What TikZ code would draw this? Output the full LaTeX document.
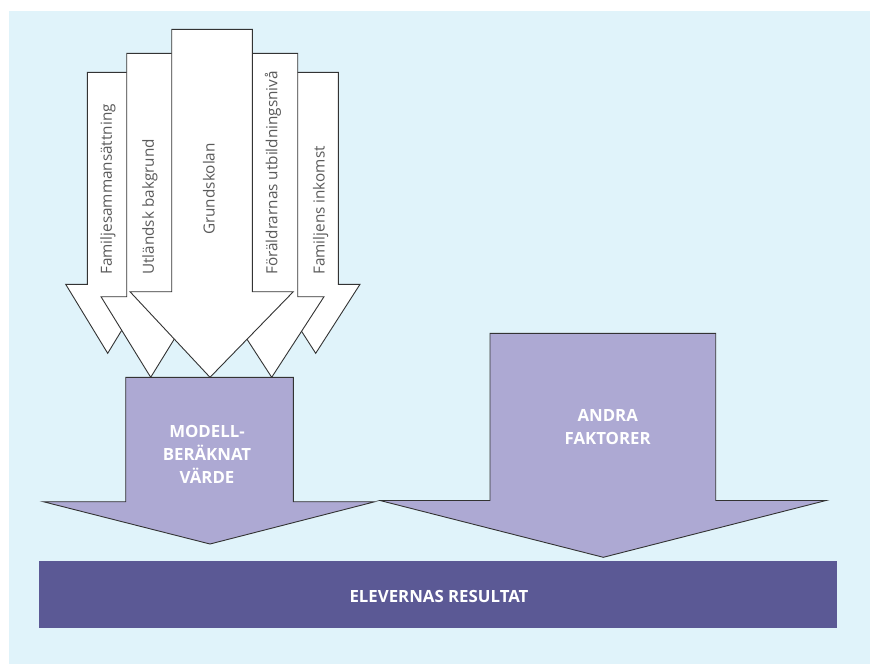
\documentclass[tikz,border=0pt]{standalone}
\usepackage{fontspec}
\setmainfont{Open Sans}
\definecolor{bgblue}{HTML}{E0F3FA}
\definecolor{lilac}{HTML}{ADA9D3}
\definecolor{deeppurple}{HTML}{5B5995}
\definecolor{edgegray}{HTML}{333333}
\definecolor{labelgray}{HTML}{5A5A5A}
\tikzset{
  whitearrow/.style={fill=white, draw=edgegray, line width=0.9pt, line join=miter},
  purplearrow/.style={fill=lilac, draw=edgegray, line width=0.9pt, line join=miter},
  sidelabel/.style={rotate=90, text=labelgray, inner sep=0pt, font=\fontsize{15.3}{17}\selectfont},
  boldlabel/.style={text=white, align=center, inner sep=0pt, font=\bfseries\fontsize{16.8}{23}\selectfont},
}
\begin{document}
\begin{tikzpicture}[x=1pt, y=-1pt]
\useasboundingbox (0,0) rectangle (870,664);
\fill[bgblue] (9,11) rectangle (870,664);

% white arrows, back to front
% A1 Familjesammansättning
\draw[whitearrow] (87.3,72.3) -- (128,72.3) -- (128,284.3) -- (149.7,284.3) -- (107.7,353.3) -- (65.7,284.3) -- (87.3,284.3) -- cycle;
% A5 Familjens inkomst
\draw[whitearrow] (293,72.3) -- (338.3,72.3) -- (338.3,284.3) -- (360,284.3) -- (315.7,353.3) -- (271.4,284.3) -- (293,284.3) -- cycle;
% A2 Utländsk bakgrund
\draw[whitearrow] (126.7,53.3) -- (174.7,53.3) -- (174.7,296.7) -- (200.4,296.7) -- (150.7,377.3) -- (101,296.7) -- (126.7,296.7) -- cycle;
% A4 Föräldrarnas utbildningsnivå
\draw[whitearrow] (245.7,53.3) -- (297.7,53.3) -- (297.7,296.7) -- (324,296.7) -- (271.7,377.3) -- (219.4,296.7) -- (245.7,296.7) -- cycle;
% A3 Grundskolan
\draw[whitearrow] (171.7,29.3) -- (252.3,29.3) -- (252.3,291.7) -- (293.3,291.7) -- (210,377.3) -- (130,291.7) -- (171.7,291.7) -- cycle;

\node[sidelabel, anchor=west] (t1) at (108,275) {Familjesammansättning};
\node[sidelabel, anchor=west] (t2) at (150,275) {Utländsk bakgrund};
\node[sidelabel, anchor=center] (t3) at (209,189) {Grundskolan};
\node[sidelabel, anchor=west] (t4) at (273,275) {Föräldrarnas utbildningsnivå};
\node[sidelabel, anchor=west] (t5) at (320.7,275) {Familjens inkomst};

% purple arrows
\draw[purplearrow] (125.7,377.3) -- (293.3,377.3) -- (293.3,501.7) -- (375,501.7) -- (210,544) -- (43.3,501.7) -- (125.7,501.7) -- cycle;
\draw[purplearrow] (490,333.3) -- (715.7,333.3) -- (715.7,500.5) -- (826,500.5) -- (603.3,557.3) -- (380,500.5) -- (490,500.5) -- cycle;

\node[boldlabel] (model) at (207,454) {MODELL-\\BERÄKNAT\\VÄRDE};
\node[boldlabel] (andra) at (607.7,427.4) {ANDRA\\FAKTORER};

% result bar
\fill[deeppurple] (39,561) rectangle (837,628);
\node[boldlabel] (result) at (439,596) {ELEVERNAS RESULTAT};
\end{tikzpicture}
\end{document}
